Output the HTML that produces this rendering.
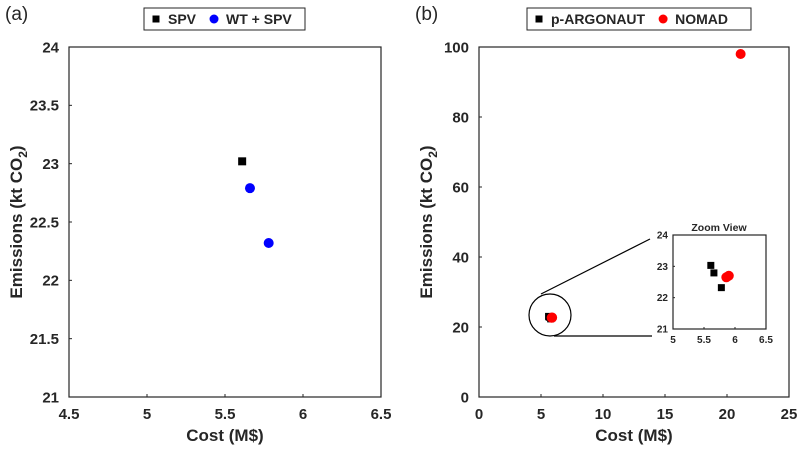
<!DOCTYPE html>
<html><head><meta charset="utf-8"><style>
body{margin:0;background:#fff;}
svg text{font-family:"Liberation Sans",sans-serif;fill:#262626;}
</style></head><body>
<svg id="c" width="800" height="447" xmlns="http://www.w3.org/2000/svg"></svg>
<script>
const aSpvX=[5.61], aSpvY=[23.02];
const aWtX=[5.66,5.78], aWtY=[22.79,22.32];
const aXTicks=[4.5,5,5.5,6,6.5], aYTicks=[21,21.5,22,22.5,23,23.5,24];
const bArgX=[5.61,5.66,5.78], bArgY=[23.03,22.79,22.32];
const bNomX=[5.86,5.9,21.1], bNomY=[22.65,22.7,98];
const bXTicks=[0,5,10,15,20,25], bYTicks=[0,20,40,60,80,100];
const zXTicks=[5,5.5,6,6.5], zYTicks=[21,22,23,24];
const NS='http://www.w3.org/2000/svg', svg=document.getElementById('c');
function mk(t,a,p){const e=document.createElementNS(NS,t);for(const k in a)e.setAttribute(k,a[k]);(p||svg).appendChild(e);return e;}
function txt(s,a,p){const e=mk('text',a,p);e.textContent=s;return e;}
function scale(d0,d1,r0,r1){return v=>r0+(v-d0)/(d1-d0)*(r1-r0);}
function axes(name,x0,x1,y0,y1,xd,yd,xt,yt,fs,withTitles){
  const g=mk('g',{});
  
  
  const sx=scale(xd[0],xd[1],x0,x1), sy=scale(yd[0],yd[1],y1,y0);
  mk('rect',{x:x0,y:y0,width:x1-x0,height:y1-y0,fill:'#fff',stroke:'#262626','stroke-width':1.2},g);
  xt.forEach(v=>{const t=txt(String(v),{x:sx(v),y:y1+(fs>12?22:14),'text-anchor':'middle','font-size':fs,'font-weight':'bold'},g);
    
    mk('line',{x1:sx(v),x2:sx(v),y1:y1,y2:y1-(fs>12?3:2),stroke:'#262626'},g);});
  yt.forEach(v=>{const t=txt(String(v),{x:x0-(fs>12?10:5),y:sy(v)+fs*0.35,'text-anchor':'end','font-size':fs,'font-weight':'bold'},g);
    
    mk('line',{x1:x0,x2:x0+(fs>12?3:2),y1:sy(v),y2:sy(v),stroke:'#262626'},g);});
  if(withTitles){
    const xt2=txt('Cost (M$)',{x:(x0+x1)/2,y:y1+44,'text-anchor':'middle','font-size':17,'font-weight':'bold'},g);
    
    const yt2=mk('text',{transform:`translate(${x0-47},${(y0+y1)/2}) rotate(-90)`,'text-anchor':'middle','font-size':17,'font-weight':'bold'},g);
    yt2.innerHTML='Emissions (kt CO<tspan font-size="12" dy="5">2</tspan><tspan dy="-5">)</tspan>';
    
  }
  return {sx,sy,g};
}
function sq(x,y,s,fill,p,name){const e=mk('rect',{x:x-s/2,y:y-s/2,width:s,height:s,fill:fill},p);}
function dot(x,y,r,fill,p,name){const e=mk('circle',{cx:x,cy:y,r:r,fill:fill},p);}
function legend(name,x,y,w,items){
  const g=mk('g',{});
  mk('rect',{x:x,y:y,width:w,height:22,fill:'#fff',stroke:'#262626','stroke-width':1},g);
  let cx=x+12;
  items.forEach(it=>{
    if(it[1]==='sq')sq(cx,y+11,7,it[2],g,'legend-marker');else dot(cx,y+11,4.5,it[2],g,'legend-marker');
    const t=txt(it[0],{x:cx+12,y:y+16,'font-size':14,'font-weight':'bold'},g);
    
    cx+=12+t.getComputedTextLength()+18;
  });
}
// panel a
let la=txt('(a)',{x:5,y:20,'font-size':19});
const A=axes('plot-a',69,381,47,397,[4.5,6.5],[21,24],aXTicks,aYTicks,15,true);
aSpvX.forEach((v,i)=>sq(A.sx(v),A.sy(aSpvY[i]),8,'#000',A.g,'point-spv'));
aWtX.forEach((v,i)=>dot(A.sx(v),A.sy(aWtY[i]),5,'#0000ff',A.g,'point-wt-spv'));
legend('legend-a',144,8,161,[['SPV','sq','#000'],['WT + SPV','c','#0000ff']]);
// panel b
let lb=txt('(b)',{x:415,y:20,'font-size':19});
const B=axes('plot-b',479,789,47,397,[0,25],[0,100],bXTicks,bYTicks,15,true);
bArgX.forEach((v,i)=>sq(B.sx(v),B.sy(bArgY[i]),7,'#000',B.g,'point-argonaut'));
bNomX.forEach((v,i)=>dot(B.sx(v),B.sy(bNomY[i]),5,'#ff0000',B.g,'point-nomad'));
legend('legend-b',527,8,224,[['p-ARGONAUT','sq','#000'],['NOMAD','c','#ff0000']]);
const zc=mk('circle',{cx:550,cy:315,r:21,fill:'none',stroke:'#000','stroke-width':1.2});

const l1=mk('line',{x1:541,y1:294,x2:650,y2:239,stroke:'#000','stroke-width':1.2});
const l2=mk('line',{x1:554,y1:336,x2:652,y2:336,stroke:'#000','stroke-width':1.2});
const Z=axes('zoom-inset',673,766,235,329,[5,6.5],[21,24],zXTicks,zYTicks,10,false);
const zt=txt('Zoom View',{x:719,y:231,'text-anchor':'middle','font-size':10.5,'font-weight':'bold'},Z.g);

bArgX.forEach((v,i)=>sq(Z.sx(v),Z.sy(bArgY[i]),7,'#000',Z.g,'inset-point-argonaut'));
bNomX.forEach((v,i)=>{if(v>=5&&v<=6.5&&bNomY[i]>=21&&bNomY[i]<=24)dot(Z.sx(v),Z.sy(bNomY[i]),5,'#ff0000',Z.g,'inset-point-nomad');});
</script>
</body></html>
